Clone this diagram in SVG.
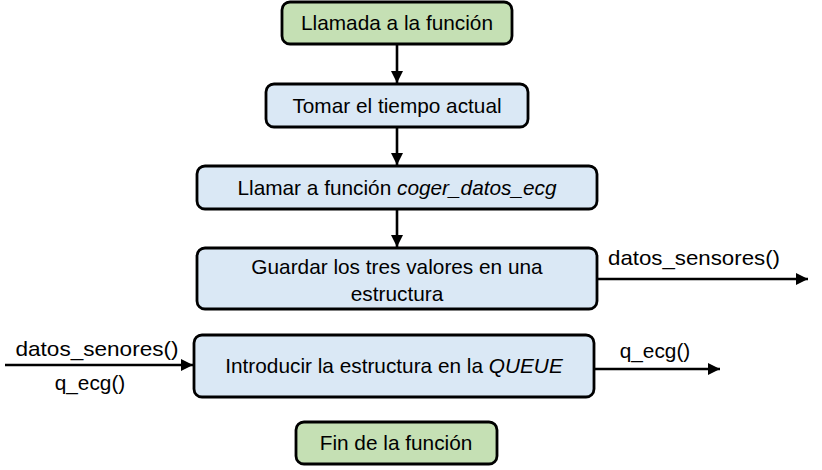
<svg xmlns="http://www.w3.org/2000/svg" width="822" height="470" viewBox="0 0 822 470">
<style>
.box{stroke:#000;stroke-width:2.8}
.g{fill:#c5e0b4}
.b{fill:#dae8f5}
text{font-family:"Liberation Sans",Arial,sans-serif;font-size:20.8px;fill:#000;text-anchor:middle}
.l{text-anchor:start}
.c line{stroke:#000;stroke-width:2.6}
</style>
<defs>
<marker id="ah" viewBox="0 0 10 10" refX="10" refY="5" markerWidth="4.8" markerHeight="4.8" orient="auto" markerUnits="strokeWidth">
<path d="M0,0 L10,5 L0,10 z" fill="#000"/>
</marker>
</defs>
<g class="c">
<line x1="397" y1="44" x2="397" y2="83" marker-end="url(#ah)"/>
<line x1="397" y1="127" x2="397" y2="165" marker-end="url(#ah)"/>
<line x1="397" y1="209" x2="397" y2="247" marker-end="url(#ah)"/>
<line x1="597" y1="279" x2="808" y2="279" marker-end="url(#ah)"/>
<line x1="5" y1="365" x2="193" y2="365" marker-end="url(#ah)"/>
<line x1="594" y1="369" x2="720" y2="369" marker-end="url(#ah)"/>
</g>
<text class="l" x="608" y="265" textLength="172" lengthAdjust="spacingAndGlyphs">datos_sensores()</text>
<text x="97" y="356" textLength="163" lengthAdjust="spacingAndGlyphs">datos_senores()</text>
<text x="90" y="390">q_ecg()</text>
<text x="655" y="358">q_ecg()</text>
<g id="n1"><rect class="box g" x="282" y="2" width="230" height="42" rx="8"/><text x="397" y="30">Llamada a la función</text></g>
<g id="n2"><rect class="box b" x="266" y="84" width="262" height="43" rx="8"/><text x="397" y="113">Tomar el tiempo actual</text></g>
<g id="n3"><rect class="box b" x="197" y="166" width="400" height="43" rx="8"/><text x="397" y="195">Llamar a función <tspan font-style="italic">coger_datos_ecg</tspan></text></g>
<g id="n4"><rect class="box b" x="197" y="248" width="400" height="61" rx="8"/><text x="397" y="274">Guardar los tres valores en una</text><text x="397" y="301">estructura</text></g>
<g id="n5"><rect class="box b" x="194" y="335" width="400" height="62" rx="8"/><text x="394" y="373">Introducir la estructura en la <tspan font-style="italic">QUEUE</tspan></text></g>
<g id="n6"><rect class="box g" x="296" y="422" width="201" height="42" rx="8"/><text x="396" y="450">Fin de la función</text></g>
</svg>
